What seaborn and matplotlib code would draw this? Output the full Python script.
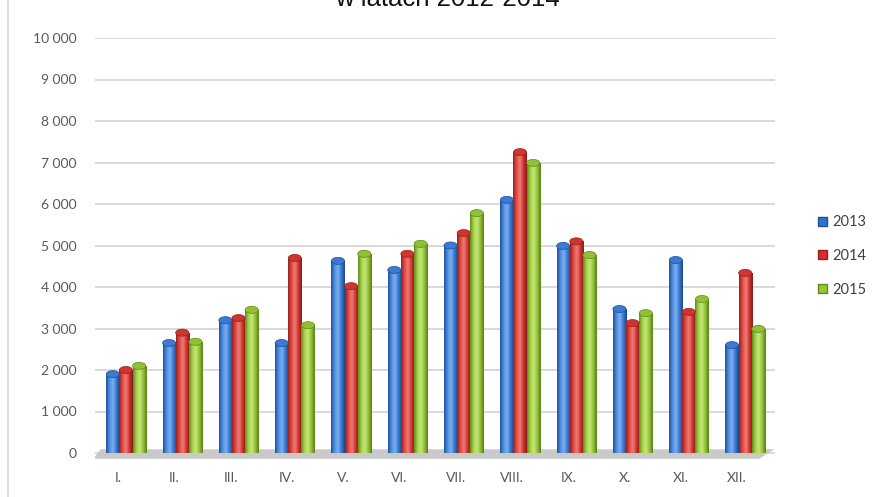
import numpy as np
import pandas as pd
import matplotlib
matplotlib.use('Agg')
import matplotlib.pyplot as plt
import matplotlib.transforms as mtransforms
import seaborn as sns
from matplotlib.colors import LinearSegmentedColormap
from matplotlib.lines import Line2D
from matplotlib.patches import Polygon, Patch, Ellipse

# data
months = ['I.', 'II.', 'III.', 'IV.', 'V.', 'VI.', 'VII.', 'VIII.', 'IX.', 'X.', 'XI.', 'XII.']
years = ['2013', '2014', '2015']
v2013 = [1900, 2650, 3200, 2650, 4630, 4410, 5000, 6100, 4990, 3470, 4650, 2600]
v2014 = [2000, 2900, 3250, 4700, 4020, 4800, 5300, 7250, 5100, 3130, 3400, 4340]
v2015 = [2100, 2680, 3450, 3080, 4800, 5040, 5780, 6990, 4770, 3370, 3710, 2990]

df = pd.DataFrame({
    'month': months * 3,
    'year': np.repeat(years, len(months)),
    'value': v2013 + v2014 + v2015,
})

base = {'2013': '#2f72cc', '2014': '#d5302b', '2015': '#96c53a'}
shades = {
    '2013': ['#1f4f9c', '#4d8ee0', '#7db0f0', '#3a7ad2', '#1b4487'],
    '2014': ['#97201c', '#e04a44', '#f07e78', '#cf342f', '#861a17'],
    '2015': ['#5f8a1c', '#a6d34a', '#c6e77c', '#92c034', '#587f18'],
}

sns.set_theme(style='white')
plt.rcParams['font.family'] = ['Lato', 'DejaVu Sans']

W, H = 874, 497
fig = plt.figure(figsize=(W / 100, H / 100), dpi=100)

# pixel geometry: value 0 at y=453, 41.5 px per 1000
ppu = 41.5 / 1000
ymin, ymax = -150, 10000
y_bot = 453 + (0 - ymin) * ppu
y_top = 453 - ymax * ppu
ax = fig.add_axes([95 / W, (H - y_bot) / H, (775 - 95) / W, (y_bot - y_top) / H])

sns.barplot(data=df, x='month', y='value', hue='year', palette=base,
            width=0.7, saturation=1, ax=ax, legend=False, zorder=3)

xl = (-0.55, 11.53)

# floor
floor = Polygon([(-0.58, -140), (11.25, -140), (11.52, 90), (-0.45, 90)],
                closed=True, facecolor='#c9c9c9', edgecolor='none', zorder=1)
ax.add_patch(floor)

# cylinder shading on each bar
grad = np.linspace(0, 1, 64).reshape(1, -1)
for cont, yr in zip(ax.containers, years):
    cmap = LinearSegmentedColormap.from_list('c' + yr, shades[yr])
    for bar in cont:
        x0, y0 = bar.get_x(), bar.get_y()
        w, h = bar.get_width(), bar.get_height()
        bar.set_edgecolor('none')
        im = ax.imshow(grad, extent=[x0, x0 + w, y0, y0 + h], aspect='auto',
                       cmap=cmap, zorder=4, interpolation='bicubic')
        im.set_clip_path(bar)
        cap = Ellipse((x0 + w / 2, y0 + h), w, 170, facecolor=shades[yr][3],
                      edgecolor=shades[yr][0], lw=0.5, zorder=5)
        ax.add_patch(cap)

ax.set_xlim(*xl)
ax.set_ylim(ymin, ymax)

ax.set_yticks(np.arange(0, 10001, 1000))
ax.set_yticklabels([f'{v:,}'.replace(',', ' ') for v in range(0, 10001, 1000)])
ax.yaxis.grid(True, color='#d9d9d9', lw=1.4, zorder=0)
ax.set_axisbelow(True)
ax.tick_params(axis='y', length=0, pad=13, labelsize=10, labelcolor='#595959')
ax.tick_params(axis='x', length=0, pad=9, labelsize=10, labelcolor='#595959')
offset = mtransforms.ScaledTranslation(-8 / 100, 0, fig.dpi_scale_trans)
for lab in ax.get_xticklabels():
    lab.set_transform(lab.get_transform() + offset)
ax.set_xlabel('')
ax.set_ylabel('')
sns.despine(ax=ax, left=True, bottom=True)

# legend
handles = [Patch(facecolor=base[y], edgecolor=shades[y][0]) for y in years]
fig.legend(handles, years, loc='center left', bbox_to_anchor=(818 / W, 1 - 256 / H),
           frameon=False, fontsize=10.5, handlelength=0.6, handleheight=0.6,
           handletextpad=0.35, labelspacing=1.35, labelcolor='#404040',
           borderpad=0, borderaxespad=0)

# title cut at the top edge
fig.text(447 / W, 1 - 6 / H, 'w latach 2012-2014', ha='center', va='baseline',
         fontsize=18.5, family=['Liberation Sans', 'DejaVu Sans'], color='#111111')

fig.add_artist(Line2D([8 / W, 8 / W], [0, 1], color='#d4d4d4', lw=1.2))

fig.savefig('out.png', dpi=100)
